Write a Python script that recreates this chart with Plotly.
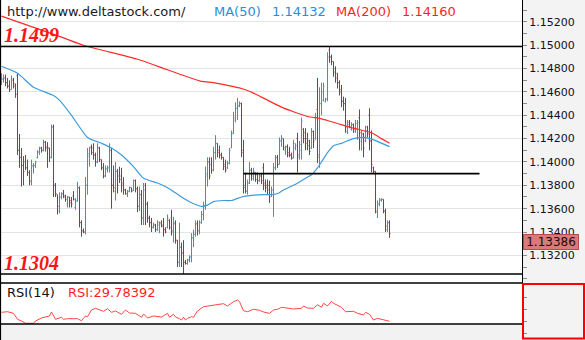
import plotly.graph_objects as go

W, H = 585, 340

# ---- price bars (EUR/USD, oldest first) ----
bar_open = [
    1.1468, 1.1471, 1.1472, 1.1468, 1.1465, 1.1462, 1.1470, 1.1467, 1.1474, 1.1410,
    1.1404, 1.1397, 1.1400, 1.1395, 1.1391, 1.1383, 1.1396, 1.1397, 1.1404, 1.1408,
    1.1412, 1.1410, 1.1417, 1.1413, 1.1412, 1.1404, 1.1430, 1.1380, 1.1372, 1.1358,
    1.1370, 1.1373, 1.1371, 1.1364, 1.1370, 1.1367, 1.1371, 1.1361, 1.1367, 1.1378,
    1.1348, 1.1341, 1.1340, 1.1380, 1.1405, 1.1413, 1.1412, 1.1406, 1.1400, 1.1412,
    1.1402, 1.1395, 1.1388, 1.1394, 1.1395, 1.1410, 1.1380, 1.1375, 1.1392, 1.1388,
    1.1388, 1.1382, 1.1376, 1.1372, 1.1375, 1.1378, 1.1376, 1.1384, 1.1377, 1.1362,
    1.1372, 1.1352, 1.1380, 1.1364, 1.1352, 1.1348, 1.1344, 1.1346, 1.1342, 1.1346,
    1.1348, 1.1346, 1.1342, 1.1344, 1.1350, 1.1352, 1.1340, 1.1347, 1.1333, 1.1314,
    1.1327, 1.1322, 1.1314, 1.1313, 1.1316, 1.1318, 1.1335, 1.1338, 1.1347, 1.1341,
    1.1348, 1.1355, 1.1362, 1.1388, 1.1400, 1.1398, 1.1393, 1.1408, 1.1416, 1.1410,
    1.1406, 1.1404, 1.1398, 1.1395, 1.1399, 1.1412, 1.1425, 1.1436, 1.1446, 1.1448,
    1.1450, 1.1410, 1.1380, 1.1375, 1.1382, 1.1393, 1.1386, 1.1391, 1.1389, 1.1384,
    1.1388, 1.1395, 1.1382, 1.1380, 1.1380, 1.1372, 1.1376, 1.1395, 1.1404, 1.1398,
    1.1418, 1.1420, 1.1410, 1.1413, 1.1408, 1.1406, 1.1404, 1.1412, 1.1420, 1.1404,
    1.1410, 1.1428, 1.1425, 1.1420, 1.1418, 1.1412, 1.1426, 1.1420, 1.1445, 1.1404,
    1.1450, 1.1453, 1.1452, 1.1454, 1.1496, 1.1490, 1.1486, 1.1480, 1.1476, 1.1468,
    1.1462, 1.1452, 1.1450, 1.1426, 1.1434, 1.1428, 1.1432, 1.1426, 1.1428, 1.1438,
    1.1418, 1.1424, 1.1418, 1.1430, 1.1440, 1.1418, 1.1395, 1.1392, 1.1357, 1.1364,
    1.1367, 1.1368, 1.1358, 1.1342, 1.1348,
]
bar_high = [
    1.1476, 1.1475, 1.1475, 1.1472, 1.1470, 1.1474, 1.1472, 1.1467, 1.1476, 1.1424,
    1.1412, 1.1405, 1.1406, 1.1402, 1.1393, 1.1402, 1.1399, 1.1401, 1.1410, 1.1413,
    1.1413, 1.1419, 1.1418, 1.1417, 1.1412, 1.1432, 1.1432, 1.1382, 1.1372, 1.1374,
    1.1374, 1.1376, 1.1372, 1.1371, 1.1370, 1.1370, 1.1375, 1.1369, 1.1383, 1.1379,
    1.1350, 1.1343, 1.1387, 1.1412, 1.1413, 1.1415, 1.1416, 1.1408, 1.1416, 1.1413,
    1.1402, 1.1399, 1.1397, 1.1397, 1.1416, 1.1412, 1.1397, 1.1400, 1.1394, 1.1396,
    1.1395, 1.1387, 1.1377, 1.1376, 1.1379, 1.1378, 1.1385, 1.1385, 1.1379, 1.1379,
    1.1376, 1.1382, 1.1382, 1.1366, 1.1354, 1.1352, 1.1348, 1.1347, 1.1350, 1.1349,
    1.1350, 1.1352, 1.1344, 1.1355, 1.1351, 1.1359, 1.1353, 1.1350, 1.1333, 1.1348,
    1.1331, 1.1333, 1.1316, 1.1317, 1.1320, 1.1339, 1.1342, 1.1350, 1.1350, 1.1350,
    1.1358, 1.1366, 1.1396, 1.1404, 1.1404, 1.1404, 1.1413, 1.1423, 1.1416, 1.1414,
    1.1408, 1.1404, 1.1402, 1.1401, 1.1412, 1.1427, 1.1443, 1.1451, 1.1455, 1.1452,
    1.1451, 1.1419, 1.1391, 1.1385, 1.1400, 1.1395, 1.1395, 1.1391, 1.1391, 1.1390,
    1.1390, 1.1399, 1.1385, 1.1385, 1.1384, 1.1379, 1.1399, 1.1406, 1.1406, 1.1421,
    1.1423, 1.1420, 1.1414, 1.1415, 1.1413, 1.1408, 1.1419, 1.1416, 1.1425, 1.1418,
    1.1438, 1.1429, 1.1429, 1.1425, 1.1419, 1.1429, 1.1427, 1.1442, 1.1472, 1.1464,
    1.1468, 1.1468, 1.1455, 1.1494, 1.1499, 1.1492, 1.1486, 1.1482, 1.1476, 1.1470,
    1.1466, 1.1456, 1.1455, 1.1436, 1.1436, 1.1434, 1.1433, 1.1436, 1.1436, 1.1445,
    1.1427, 1.1425, 1.1431, 1.1431, 1.1446, 1.1427, 1.1396, 1.1392, 1.1367, 1.1369,
    1.1369, 1.1368, 1.1360, 1.1350, 1.1350,
]
bar_low = [
    1.1466, 1.1468, 1.1465, 1.1463, 1.1460, 1.1462, 1.1463, 1.1455, 1.1406, 1.1395,
    1.1379, 1.1380, 1.1393, 1.1388, 1.1380, 1.1380, 1.1390, 1.1395, 1.1403, 1.1406,
    1.1408, 1.1409, 1.1409, 1.1395, 1.1400, 1.1403, 1.1370, 1.1370, 1.1355, 1.1356,
    1.1368, 1.1369, 1.1366, 1.1361, 1.1361, 1.1361, 1.1367, 1.1359, 1.1366, 1.1344,
    1.1336, 1.1339, 1.1338, 1.1372, 1.1396, 1.1406, 1.1402, 1.1396, 1.1399, 1.1400,
    1.1393, 1.1386, 1.1387, 1.1391, 1.1391, 1.1360, 1.1374, 1.1367, 1.1373, 1.1382,
    1.1374, 1.1372, 1.1372, 1.1370, 1.1374, 1.1374, 1.1375, 1.1374, 1.1357, 1.1358,
    1.1346, 1.1346, 1.1346, 1.1348, 1.1344, 1.1340, 1.1343, 1.1340, 1.1341, 1.1339,
    1.1344, 1.1336, 1.1339, 1.1343, 1.1342, 1.1337, 1.1331, 1.1330, 1.1310, 1.1310,
    1.1310, 1.1304, 1.1312, 1.1312, 1.1314, 1.1314, 1.1327, 1.1336, 1.1337, 1.1338,
    1.1347, 1.1350, 1.1359, 1.1379, 1.1385, 1.1390, 1.1392, 1.1402, 1.1404, 1.1403,
    1.1402, 1.1393, 1.1391, 1.1394, 1.1398, 1.1412, 1.1424, 1.1434, 1.1436, 1.1447,
    1.1404, 1.1373, 1.1373, 1.1372, 1.1381, 1.1384, 1.1384, 1.1383, 1.1381, 1.1383,
    1.1381, 1.1376, 1.1374, 1.1372, 1.1365, 1.1370, 1.1353, 1.1393, 1.1395, 1.1398,
    1.1413, 1.1410, 1.1406, 1.1404, 1.1404, 1.1402, 1.1403, 1.1410, 1.1391, 1.1402,
    1.1402, 1.1416, 1.1410, 1.1410, 1.1406, 1.1411, 1.1412, 1.1419, 1.1399, 1.1395,
    1.1440, 1.1452, 1.1451, 1.1452, 1.1485, 1.1483, 1.1473, 1.1468, 1.1463, 1.1457,
    1.1447, 1.1444, 1.1425, 1.1424, 1.1429, 1.1427, 1.1425, 1.1425, 1.1419, 1.1410,
    1.1410, 1.1404, 1.1417, 1.1421, 1.1410, 1.1391, 1.1390, 1.1356, 1.1352, 1.1362,
    1.1366, 1.1356, 1.1340, 1.1340, 1.1335,
]
bar_close = [
    1.1471, 1.1472, 1.1468, 1.1465, 1.1462, 1.1471, 1.1465, 1.1458, 1.1410, 1.1404,
    1.1397, 1.1392, 1.1395, 1.1391, 1.1384, 1.1397, 1.1397, 1.1400, 1.1409, 1.1412,
    1.1410, 1.1417, 1.1412, 1.1412, 1.1404, 1.1430, 1.1380, 1.1373, 1.1362, 1.1370,
    1.1372, 1.1370, 1.1368, 1.1370, 1.1365, 1.1364, 1.1368, 1.1366, 1.1378, 1.1348,
    1.1341, 1.1340, 1.1380, 1.1407, 1.1412, 1.1408, 1.1406, 1.1400, 1.1412, 1.1402,
    1.1395, 1.1388, 1.1394, 1.1395, 1.1410, 1.1380, 1.1378, 1.1392, 1.1380, 1.1385,
    1.1380, 1.1376, 1.1373, 1.1375, 1.1378, 1.1375, 1.1384, 1.1377, 1.1362, 1.1372,
    1.1352, 1.1376, 1.1364, 1.1352, 1.1348, 1.1344, 1.1346, 1.1342, 1.1348, 1.1347,
    1.1345, 1.1342, 1.1340, 1.1352, 1.1344, 1.1341, 1.1348, 1.1333, 1.1314, 1.1327,
    1.1322, 1.1314, 1.1313, 1.1316, 1.1319, 1.1335, 1.1338, 1.1347, 1.1341, 1.1348,
    1.1355, 1.1363, 1.1390, 1.1400, 1.1388, 1.1393, 1.1408, 1.1416, 1.1408, 1.1406,
    1.1404, 1.1396, 1.1393, 1.1399, 1.1410, 1.1424, 1.1438, 1.1446, 1.1448, 1.1450,
    1.1408, 1.1378, 1.1375, 1.1382, 1.1393, 1.1388, 1.1392, 1.1385, 1.1384, 1.1388,
    1.1384, 1.1380, 1.1378, 1.1376, 1.1370, 1.1376, 1.1395, 1.1404, 1.1398, 1.1418,
    1.1420, 1.1412, 1.1413, 1.1406, 1.1406, 1.1403, 1.1416, 1.1414, 1.1406, 1.1415,
    1.1435, 1.1420, 1.1416, 1.1414, 1.1409, 1.1426, 1.1418, 1.1438, 1.1406, 1.1450,
    1.1460, 1.1465, 1.1454, 1.1490, 1.1490, 1.1486, 1.1477, 1.1472, 1.1468, 1.1460,
    1.1452, 1.1450, 1.1430, 1.1432, 1.1430, 1.1432, 1.1428, 1.1433, 1.1434, 1.1425,
    1.1424, 1.1412, 1.1427, 1.1424, 1.1418, 1.1398, 1.1392, 1.1358, 1.1364, 1.1368,
    1.1368, 1.1358, 1.1345, 1.1348, 1.13386,
]
bar_no = list(range(len(bar_close)))

# ---- moving averages, read at selected bars ----
ma50_bar = [0, 8, 16, 26, 29, 35, 43, 50, 55, 60, 66, 71, 78, 83, 90, 95, 100, 103,
            106, 111, 115, 120, 123, 131, 135, 138, 141, 146, 151, 155, 158, 160,
            163, 166, 170, 176, 181, 186, 194]
ma50_value = [1.1482, 1.1476, 1.1464, 1.1457, 1.1453, 1.1440, 1.1421, 1.1416, 1.1412,
              1.1406, 1.1396, 1.1386, 1.1382, 1.1378, 1.1370, 1.1365, 1.1362, 1.1363,
              1.1366, 1.1367, 1.1367, 1.1370, 1.1371, 1.1372, 1.1372, 1.1373, 1.1376,
              1.1380, 1.1385, 1.1389, 1.1395, 1.1400, 1.1408, 1.1414, 1.1416, 1.1420,
              1.1421, 1.1419, 1.14132]
ma200_bar = [0, 30, 41, 68, 83, 100, 106, 120, 126, 133, 140, 146, 153, 160, 168,
             176, 185, 190, 194]
ma200_value = [1.1525, 1.1507, 1.1500, 1.1488, 1.1479, 1.1469, 1.1468, 1.1463, 1.1459,
               1.1453, 1.1447, 1.1443, 1.1439, 1.1437, 1.1433, 1.1429, 1.1425, 1.1420,
               1.14160]

# ---- RSI(14), read at selected bars ----
rsi_bar = [0, 3, 6, 8, 10, 12, 16, 17, 20, 23, 24, 25, 27, 30, 31, 33, 38, 40, 42, 43,
           45, 47, 49, 51, 53, 55, 57, 60, 62, 64, 67, 70, 71, 73, 76, 80, 83, 84, 86, 87,
           89, 90, 91, 92, 93, 95, 96, 98, 101, 104, 107, 111, 113, 116, 118, 119, 121,
           123, 126, 129, 131, 134, 136, 138, 140, 143, 146, 150, 151, 153, 156, 158,
           160, 161, 163, 165, 166, 170, 172, 176, 178, 181, 182, 184, 186, 188, 191,
           193, 194]
rsi_value = [44.8, 45.8, 43.1, 33.1, 30.2, 26.4, 26.4, 30.2, 35.3, 37.4, 38.6, 45.3,
             33.1, 36.4, 33.1, 34.1, 34.1, 30.7, 38.6, 37.4, 48.7, 51.5, 48.7, 46.5,
             50.9, 44.8, 47.0, 41.5, 48.7, 43.6, 43.1, 36.4, 42.0, 35.3, 38.6, 36.9,
             43.1, 36.4, 41.5, 36.9, 34.1, 31.9, 36.4, 31.9, 34.7, 37.4, 36.4, 47.0,
             54.2, 55.9, 57.1, 59.3, 55.4, 62.6, 65.5, 62.6, 47.5, 45.8, 49.9, 48.2,
             45.3, 43.1, 48.7, 49.9, 53.2, 51.5, 50.4, 51.5, 55.4, 52.0, 51.5, 57.6,
             53.2, 59.9, 55.4, 63.3, 59.9, 53.2, 45.8, 46.5, 43.1, 40.3, 44.8, 41.5,
             31.9, 34.7, 31.9, 30.7, 29.78392]

# ---- support / resistance levels ----
level_top = 1.1499
level_bottom = 1.1304
level_mid = 1.1390
level_mid_bars = [121, 239]

price_ticks = [1.132, 1.134, 1.136, 1.138, 1.140, 1.142, 1.144, 1.146, 1.148, 1.150, 1.152]
price_minor = [1.130, 1.131, 1.133, 1.135, 1.137, 1.139, 1.141, 1.143, 1.145, 1.147,
               1.149, 1.151, 1.153]
rsi_ticks = [10, 30, 50, 70]

assert len(bar_open) == len(bar_high) == len(bar_low) == len(bar_close)
assert len(ma50_bar) == len(ma50_value) and len(ma200_bar) == len(ma200_value)
assert len(rsi_bar) == len(rsi_value)

UP = "#2f95d2"
DOWN = "#b3292c"
MA50_C = "#3b9cdb"
MA200_C = "#ff2b2b"
FONT = "DejaVu Sans"

# layout in pixels
PLOT_R = 522          # right edge of the chart panes
MAIN_BOTTOM = 283     # price pane / RSI pane separator
RSI_BOTTOM = 324      # top of the footer strip


def px(x):
    return x / W


def py(y):
    return 1 - y / H


fig = go.Figure()

fig.add_trace(go.Ohlc(
    x=bar_no, open=bar_open, high=bar_high, low=bar_low, close=bar_close,
    increasing=dict(line=dict(color=UP, width=1)),
    decreasing=dict(line=dict(color=DOWN, width=1)),
    tickwidth=0.5, xaxis="x", yaxis="y", hoverinfo="skip",
))
fig.add_trace(go.Scatter(
    x=ma200_bar, y=ma200_value, mode="lines", xaxis="x", yaxis="y",
    line=dict(color=MA200_C, width=1.2, shape="spline", smoothing=0.6), hoverinfo="skip",
))
fig.add_trace(go.Scatter(
    x=ma50_bar, y=ma50_value, mode="lines", xaxis="x", yaxis="y",
    line=dict(color=MA50_C, width=1.2, shape="spline", smoothing=0.6), hoverinfo="skip",
))
fig.add_trace(go.Scatter(
    x=rsi_bar, y=rsi_value, mode="lines", xaxis="x2", yaxis="y2",
    line=dict(color="#ff4646", width=1), hoverinfo="skip",
))

x_range = [-0.75, 260.25]   # 2 px per bar across the 522 px pane

shapes = [
    # resistance / support levels
    dict(type="line", xref="paper", yref="y", x0=0, x1=px(PLOT_R), y0=level_top, y1=level_top,
         line=dict(color="black", width=1.6), layer="above"),
    dict(type="line", xref="paper", yref="y", x0=0, x1=px(PLOT_R), y0=level_bottom, y1=level_bottom,
         line=dict(color="black", width=1.6), layer="above"),
    dict(type="line", xref="x", yref="y", x0=level_mid_bars[0], x1=level_mid_bars[1],
         y0=level_mid, y1=level_mid, line=dict(color="black", width=1.6), layer="above"),
    # footer strip under the RSI pane
    dict(type="rect", xref="paper", yref="paper", x0=0, x1=px(PLOT_R), y0=0, y1=py(RSI_BOTTOM),
         fillcolor="#f2f2f2", line=dict(width=0), layer="above"),
    # pane separators
    dict(type="line", xref="paper", yref="paper", x0=0, x1=px(PLOT_R),
         y0=py(MAIN_BOTTOM), y1=py(MAIN_BOTTOM), line=dict(color="black", width=1.5), layer="above"),
    dict(type="line", xref="paper", yref="paper", x0=0, x1=px(PLOT_R),
         y0=py(RSI_BOTTOM), y1=py(RSI_BOTTOM), line=dict(color="black", width=1.5), layer="above"),
    dict(type="line", xref="paper", yref="paper", x0=px(0.5), x1=px(0.5), y0=0, y1=1,
         line=dict(color="black", width=1.2), layer="above"),
    # highlighted RSI scale
    dict(type="rect", xref="paper", yref="paper", x0=px(523), x1=px(584), y0=py(338.5), y1=py(284),
         line=dict(color="#ff0000", width=2), layer="above"),
]

annotations = [
    dict(text="http://www.deltastock.com/", x=px(5), y=py(11.5), color="#1a1a1a"),
    dict(text="MA(50)", x=px(212), y=py(11.5), color="#2b8ed4"),
    dict(text=f"{ma50_value[-1]:.5f}", x=px(270), y=py(11.5), color="#2b8ed4"),
    dict(text="MA(200)", x=px(334), y=py(11.5), color="#ff1f1f"),
    dict(text=f"{ma200_value[-1]:.5f}", x=px(400), y=py(11.5), color="#ff1f1f"),
    dict(text="RSI(14)", x=px(5), y=py(292), color="#111111"),
    dict(text=f"RSI:{rsi_value[-1]:.5f}", x=px(66), y=py(292), color="#ff1f1f"),
]
ann_list = []
for a in annotations:
    ann_list.append(dict(
        text=a["text"], x=a["x"], y=a["y"], xref="paper", yref="paper",
        xanchor="left", yanchor="middle", showarrow=False,
        font=dict(family=FONT, size=13, color=a["color"]),
    ))

for value, ypix in ((level_top, 35.5), (level_bottom, 262.5)):
    ann_list.append(dict(
        text=f"<b><i>{value:.4f}</i></b>", x=px(2), y=py(ypix), xref="paper", yref="paper",
        xanchor="left", yanchor="middle", showarrow=False,
        font=dict(family="Liberation Serif", size=20, color="#ff1414"),
    ))

# last price marker on the scale
ann_list.append(dict(
    text=f"{bar_close[-1]:.5f}", x=px(523), y=bar_close[-1], xref="paper", yref="y",
    xanchor="left", yanchor="top", showarrow=False,
    bgcolor="#d77a7a", bordercolor="#b94b4b", borderwidth=1, borderpad=0,
    width=54, height=14,
    font=dict(family=FONT, size=12, color="#2a0808"),
))

fig.update_layout(
    width=W, height=H,
    margin=dict(l=0, r=0, t=0, b=0),
    paper_bgcolor="#f3f3f3",
    plot_bgcolor="white",
    showlegend=False,
    dragmode=False,
    xaxis=dict(domain=[0, px(PLOT_R)], range=x_range, visible=False, anchor="y",
               rangeslider=dict(visible=False)),
    xaxis2=dict(domain=[0, px(PLOT_R)], range=x_range, visible=False, anchor="y2"),
    yaxis=dict(
        domain=[py(MAIN_BOTTOM), 1], range=[1.12963, 1.15388], side="right", anchor="x",
        tickmode="array", tickvals=price_ticks, ticktext=[f"{v:.5f}" for v in price_ticks],
        ticks="outside", ticklen=4, tickcolor="#8a8a8a", tickwidth=1,
        minor=dict(tickmode="array", tickvals=price_minor, ticks="outside", ticklen=4,
                   tickcolor="#8a8a8a", showgrid=False),
        showgrid=True, gridcolor="#e4e4e4", gridwidth=1, zeroline=False,
        showline=True, linecolor="black", linewidth=1,
        tickfont=dict(family=FONT, size=11, color="#111122"),
    ),
    yaxis2=dict(
        domain=[py(339), py(MAIN_BOTTOM)], range=[0, 94], side="right", anchor="x2",
        tickmode="array", tickvals=rsi_ticks, showticklabels=False,
        ticks="outside", ticklen=4, tickcolor="#8a8a8a",
        showgrid=False, zeroline=False, showline=True, linecolor="black", linewidth=1,
    ),
    shapes=shapes,
    annotations=ann_list,
)

fig.write_html("out.html", config={"displayModeBar": False, "staticPlot": True})
